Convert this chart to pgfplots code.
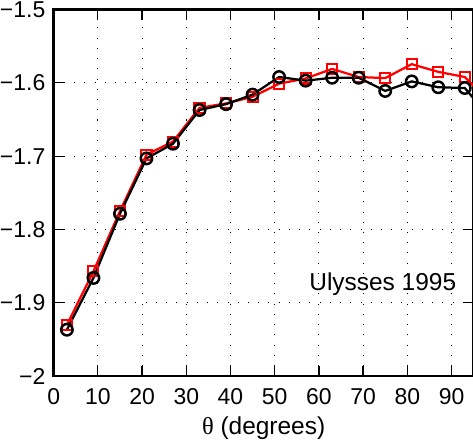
\documentclass[border={0pt 3bp -1.8bp 1.5bp}]{standalone}
\usepackage{pgfplots}
\pgfplotsset{compat=1.18}
\usepackage{fontspec}
\setmainfont{Liberation Sans}
\newfontfamily\serifgreek{Liberation Serif}
\begin{document}
\begin{tikzpicture}
\begin{axis}[
  scale only axis, width=410.6bp, height=358.5bp,
  xmin=0, xmax=95, ymin=-2, ymax=-1.5,
  xtick={0,10,...,90},
  ytick={-2,-1.9,-1.8,-1.7,-1.6,-1.5},
  yticklabels={−2,−1.9,−1.8,−1.7,−1.6,−1.5},
  tick align=inside,
  major tick length=10bp,
  tick style={line width=1.2bp, black},
  axis line style={line width=2.4bp},
  grid=major,
  major grid style={black, line width=1bp, dash pattern=on 1bp off 9bp},
  /pgf/number format/assume math mode=true,
  ticklabel style={font=\fontsize{22.5}{26}\selectfont},
  yticklabel style={inner sep=0pt, xshift=-8bp},
  xticklabel style={inner sep=0pt, yshift=-12.2bp},
  xlabel={{\serifgreek θ} (degrees)},
  xlabel style={font=\fontsize{24}{28}\selectfont, at={(axis description cs:0.5,0)}, anchor=base, inner sep=0pt, yshift=-56.5bp},
]
\addplot[red, line width=2.2bp, mark=square, mark size=4.9bp, mark indices={1,...,16}, mark options={fill=white, line width=2bp, solid}] coordinates {
(3,-1.930) (9,-1.857) (15,-1.775) (21,-1.698) (27,-1.680) (33,-1.634) (39,-1.628) (45,-1.619) (51,-1.601) (57,-1.594) (63,-1.581) (69,-1.592) (75,-1.5935) (81,-1.5745) (87,-1.585) (93,-1.592) (99,-1.628)
};
\addplot[black, line width=2.2bp, mark=o, mark size=5.6bp, mark indices={1,...,16}, mark options={fill=white, line width=2.4bp, solid}] coordinates {
(3,-1.9366) (9,-1.866) (15,-1.7785) (21,-1.703) (27,-1.683) (33,-1.637) (39,-1.629) (45,-1.616) (51,-1.592) (57,-1.597) (63,-1.593) (69,-1.593) (75,-1.611) (81,-1.598) (87,-1.606) (93,-1.607) (99,-1.65)
};
\node[anchor=base west, inner sep=0pt, font=\fontsize{24}{28}\selectfont] at (axis cs:57.8,-1.883) {Ulysses 1995};
\end{axis}
\end{tikzpicture}
\end{document}
